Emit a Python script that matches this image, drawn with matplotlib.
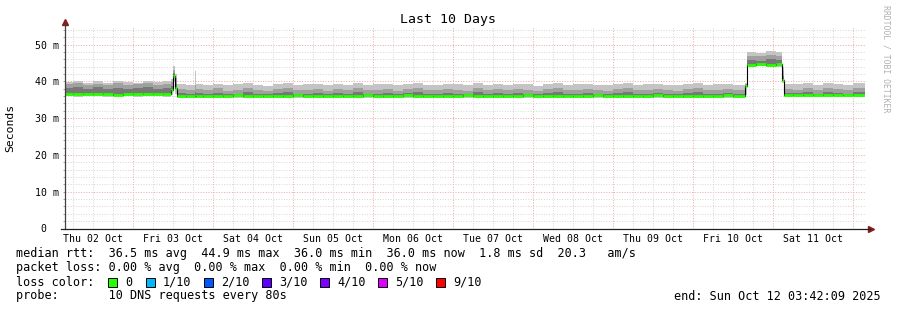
import numpy as np
import matplotlib
matplotlib.use("Agg")
import matplotlib.pyplot as plt
from matplotlib.patches import Rectangle

MONO = "DejaVu Sans Mono"

# sample start times, hours since Thu 02 Oct 00:00
t = np.r_[3.7, 6, 9, 12, 15, 18, 21, 24, 27, 30, 33,   # thu
          35.5, 36.0, 36.7,                           # fri spike
          37.1, 39.8, 42.5,
          42.8, np.arange(45, 205, 3),                # sat .. fri
          207.6,
          208.2, 211, 214, 217,                       # fri 10 high
          218.7,
          219.3, 222, 225, 228, 231, 234, 237, 240]
t_end = 243.7

# median rtt (ms)
median = [36.6, 36.5, 36.7, 36.5, 36.6, 36.4, 36.6, 36.5, 36.7, 36.5, 36.6,
          37.8, 41.5, 38.2,
          36.1, 36.0, 36.0,
          36.1, 36.0, 36.1, 36.0, 36.2, 36.1, 36.0, 36.1, 36.0, 36.1,
          36.2, 36.0, 36.1, 36.0, 36.1, 36.1, 36.0, 36.2, 36.1, 36.0,
          36.1, 36.2, 36.1, 36.0, 36.1, 36.0, 36.1, 36.2, 36.0, 36.1,
          36.1, 36.0, 36.1, 36.2, 36.0, 36.1, 36.0, 36.1, 36.1, 36.0,
          36.2, 36.1, 36.0, 36.1, 36.0, 36.1, 36.2, 36.0, 36.1, 36.0,
          36.1, 36.0, 36.1, 36.2, 36.1,
          38.8,
          44.6, 44.8, 44.5, 44.7,
          40.3,
          36.3, 36.2, 36.3, 36.2, 36.3, 36.2, 36.3, 36.2]

# smoke: min and max ping
ping_min = [35.9, 35.8, 36.0, 35.9, 35.8, 35.9, 36.0, 35.8, 35.9, 35.9, 35.8,
            36.3, 40.2, 36.5,
            35.6, 35.5, 35.5,
            35.6, 35.5, 35.6, 35.4, 35.6, 35.5, 35.6, 35.5, 35.4, 35.6,
            35.5, 35.6, 35.5, 35.6, 35.4, 35.5, 35.6, 35.5, 35.6, 35.5,
            35.4, 35.6, 35.5, 35.6, 35.5, 35.6, 35.5, 35.4, 35.6, 35.5,
            35.6, 35.5, 35.6, 35.5, 35.4, 35.6, 35.5, 35.6, 35.5, 35.6,
            35.5, 35.4, 35.6, 35.5, 35.6, 35.5, 35.6, 35.5, 35.4, 35.6,
            35.5, 35.6, 35.5, 35.6, 35.5,
            36.3,
            44.0, 44.1, 43.9, 44.0,
            39.6,
            35.8, 35.7, 35.8, 35.7, 35.8, 35.7, 35.8, 35.7]

ping_max = [39.9, 40.1, 39.6, 40.0, 39.7, 40.2, 39.8, 39.6, 40.1, 39.8, 40.0,
            40.6, 44.2, 42.0,
            39.2, 38.9, 42.8,
            39.3, 39.0, 39.4, 38.9, 39.2, 39.5, 39.1, 38.8, 39.3, 39.6,
            39.0, 39.2, 39.4, 38.9, 39.3, 39.1, 39.5, 39.0, 39.2, 39.4,
            38.9, 39.3, 39.6, 39.1, 39.0, 39.4, 39.2, 38.9, 39.5, 39.1,
            39.3, 39.0, 39.4, 39.2, 38.8, 39.3, 39.5, 39.0, 39.2, 39.4,
            39.1, 38.9, 39.3, 39.5, 39.0, 39.2, 39.4, 39.1, 38.9, 39.3,
            39.5, 39.0, 39.2, 39.4, 39.1,
            39.6,
            48.0, 47.7, 48.2, 47.9,
            43.8,
            39.4, 39.2, 39.6, 39.1, 39.5, 39.3, 39.0, 39.6]

# upper edge of middle and inner smoke bands
band_mid = [39.2, 39.5, 39.0, 39.3, 39.1, 39.6, 39.0, 39.2, 39.5, 39.1, 39.3,
            39.8, 43.2, 40.8,
            37.9, 37.6, 39.0,
            37.9, 37.6, 38.1, 37.5, 37.8, 38.2, 37.7, 37.4, 37.9, 38.3,
            37.6, 37.8, 38.0, 37.5, 37.9, 37.7, 38.1, 37.6, 37.8, 38.0,
            37.5, 37.9, 38.2, 37.7, 37.6, 38.0, 37.8, 37.5, 38.1, 37.7,
            37.9, 37.6, 38.0, 37.8, 37.4, 37.9, 38.1, 37.6, 37.8, 38.0,
            37.7, 37.5, 37.9, 38.1, 37.6, 37.8, 38.0, 37.7, 37.5, 37.9,
            38.1, 37.6, 37.8, 38.0, 37.7,
            39.3,
            47.0, 46.8, 47.3, 46.9,
            42.8,
            38.0, 37.8, 38.2, 37.7, 38.1, 37.9, 37.6, 38.2]

band_inner = [38.2, 38.4, 37.9, 38.5, 38.0, 38.3, 37.9, 38.2, 38.6, 38.0, 38.3,
              38.8, 42.3, 39.4,
              36.8, 36.7, 37.0,
              36.8, 36.6, 36.9, 36.5, 36.7, 37.0, 36.6, 36.5, 36.8, 37.1,
              36.6, 36.7, 36.9, 36.5, 36.8, 36.6, 37.0, 36.6, 36.7, 36.9,
              36.5, 36.8, 37.0, 36.6, 36.6, 36.9, 36.7, 36.5, 37.0, 36.6,
              36.8, 36.6, 36.9, 36.7, 36.5, 36.8, 37.0, 36.6, 36.7, 36.9,
              36.6, 36.5, 36.8, 37.0, 36.6, 36.7, 36.9, 36.6, 36.5, 36.8,
              37.0, 36.6, 36.7, 36.9, 36.6,
              39.0,
              45.8, 45.6, 46.1, 45.7,
              41.6,
              36.9, 36.8, 37.1, 36.7, 37.0, 36.8, 36.7, 37.1]

days = ["Thu 02 Oct", "Fri 03 Oct", "Sat 04 Oct", "Sun 05 Oct", "Mon 06 Oct",
        "Tue 07 Oct", "Wed 08 Oct", "Thu 09 Oct", "Fri 10 Oct", "Sat 11 Oct"]
y_ticks = [0, 10, 20, 30, 40, 50]
y_labels = ["0  ", "10 m", "20 m", "30 m", "40 m", "50 m"]

loss_labels = ["0", "1/10", "2/10", "3/10", "4/10", "5/10", "9/10"]
loss_colors = ["#26ff00", "#00b8ff", "#0059ff", "#5e00ff", "#7e00ff", "#dd00ff", "#ff0000"]

for arr in (median, ping_min, ping_max, band_mid, band_inner):
    assert len(arr) == len(t)

W, H = 897, 310
fig = plt.figure(figsize=(W / 100, H / 100), dpi=100)
fig.patch.set_facecolor("white")
x0, x1, ytop, ybot = 65.3, 865.3, 27, 228.5
ax = fig.add_axes([x0 / W, 1 - ybot / H, (x1 - x0) / W, (ybot - ytop) / H])
ax.set_xlim(3.7, t_end)
ax.set_ylim(0, 54.8)
for s in ax.spines.values():
    s.set_visible(False)

# grid
dot = (0, (1, 1.6))
for yy in np.arange(2, 55, 2):
    major = yy % 10 == 0
    ax.axhline(yy, color="#eeaaaa" if major else "#d6d6d6", lw=0.72, ls=dot, zorder=0)
for hh in np.arange(6, 244, 6):
    major = hh % 24 == 0
    ax.axvline(hh, color="#eeaaaa" if major else "#d6d6d6", lw=0.72, ls=dot, zorder=0)

# smoke + median
xs = np.append(t, t_end)
ext = lambda a: np.append(a, a[-1])
ax.fill_between(xs, ext(ping_min), ext(ping_max), step="post", color="#c4c4c4", lw=0, zorder=1)
ax.fill_between(xs, ext(median), ext(band_mid), step="post", color="#a0a0a0", lw=0, zorder=2)
ax.fill_between(xs, ext(median), ext(band_inner), step="post", color="#787878", lw=0, zorder=3)
ax.step(xs, ext(median), where="post", color="black", lw=0.8, zorder=4)
ax.hlines(median, t, xs[1:], color=loss_colors[0], lw=2.0, zorder=5)

# axes with arrows
ax.plot([0, 0], [0, 1.02], transform=ax.transAxes, color="#404040", lw=0.9, clip_on=False, zorder=6)
ax.plot([-0.005, 1.006], [0, 0], transform=ax.transAxes, color="#202020", lw=0.9, clip_on=False, zorder=6)
ax.plot([0], [1.025], marker="^", ms=4, color="#8b1a1a", transform=ax.transAxes, clip_on=False)
ax.plot([1.007], [0], marker=">", ms=4, color="#8b1a1a", transform=ax.transAxes, clip_on=False)

ax.set_yticks(y_ticks, y_labels, family=MONO, fontsize=7.1)
ax.set_yticks(np.arange(2, 55, 2), minor=True)
ax.tick_params(axis="y", which="both", length=1.6, width=0.6, color="#909090", pad=3.0)
ax.set_xticks([24 * i + 12 for i in range(10)], days, family=MONO, fontsize=7.1)
ax.tick_params(axis="x", length=0, pad=4.0)

ax.set_ylabel("Seconds", family=MONO, fontsize=8.2, labelpad=0)
ax.yaxis.set_label_coords(-49.8 / (x1 - x0), 0.5)

def fx(px):
    return px / W

def fy(py):
    return 1 - py / H

fig.text(fx(448), fy(19), "Last 10 Days", family=MONO, fontsize=9.5, ha="center", va="center")
fig.text(fx(886), fy(59), "RRDTOOL / TOBI OETIKER", family=MONO, fontsize=5.9,
         color="#b0b0b0", rotation=270, ha="center", va="center")

legend_kw = dict(family=MONO, fontsize=8.45, va="center", ha="left")
fig.text(fx(16), fy(254), "median rtt:  36.5 ms avg  44.9 ms max  36.0 ms min  36.0 ms now  1.8 ms sd  20.3   am/s", **legend_kw)
fig.text(fx(16), fy(268), "packet loss: 0.00 % avg  0.00 % max  0.00 % min  0.00 % now", **legend_kw)
fig.text(fx(16), fy(282), "loss color:", **legend_kw)
box_x = [108, 146, 204, 262, 320, 378, 436]
for bx, lab, col in zip(box_x, loss_labels, loss_colors):
    fig.patches.append(Rectangle((fx(bx), fy(286.5)), 9 / W, 9 / H, transform=fig.transFigure,
                                 facecolor=col, edgecolor="black", lw=0.7))
    fig.text(fx(bx + 17), fy(282), lab, **legend_kw)
fig.text(fx(16), fy(296), "probe:       10 DNS requests every 80s", **legend_kw)
fig.text(fx(881), fy(296), "end: Sun Oct 12 03:42:09 2025", family=MONO, fontsize=8.45, va="center", ha="right")

fig.savefig("out.png", dpi=100, facecolor="white")
